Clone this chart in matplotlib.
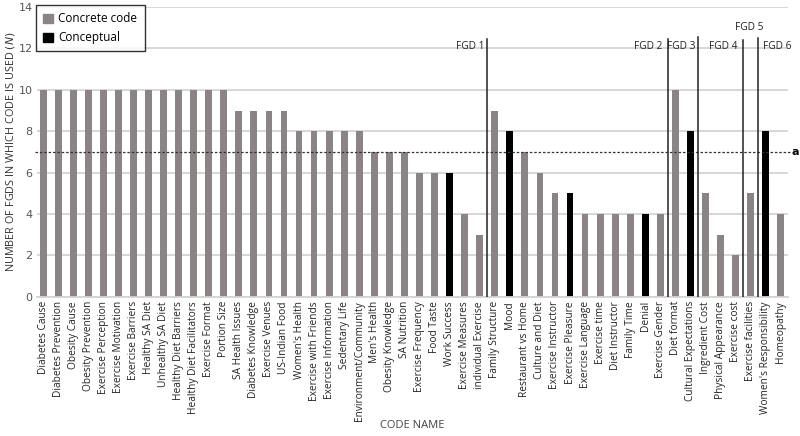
# -*- coding: utf-8 -*-
# FGD code frequency chart

import numpy as np
import matplotlib.pyplot as plt
from matplotlib.patches import Patch

# Data
codes = ['Diabetes Cause', 'Diabetes Prevention', 'Obesity Cause', 'Obesity Prevention',
         'Exercise Perception', 'Exercise Motivation', 'Exercise Barriers', 'Healthy SA Diet',
         'Unhealthy SA Diet', 'Healthy Diet Barriers', 'Healthy Diet Facilitators',
         'Exercise Format', 'Portion Size', 'SA Health Issues', 'Diabetes Knowledge',
         'Exercise Venues', 'US-Indian Food', "Women's Health", 'Exercise with Friends',
         'Exercise Information', 'Sedentary Life', 'Environment/Community', "Men's Health",
         'Obesity Knowledge', 'SA Nutrition', 'Exercise Frequency', 'Food Taste',
         'Work Success', 'Exercise Measures', 'individual Exercise', 'Family Structure',
         'Mood', 'Restaurant vs Home', 'Culture and Diet', 'Exercise Instructor',
         'Exercise Pleasure', 'Exercise Language', 'Exercise time', 'Diet Instructor',
         'Family Time', 'Denial', 'Exercise Gender', 'Diet format', 'Cultural Expectations',
         'Ingredient Cost', 'Physical Appearance', 'Exercise cost', 'Exercise facilities',
         "Women's Responsibility", 'Homeopathy']
n_fgds = [10, 10, 10, 10, 10, 10, 10, 10, 10, 10, 10, 10, 10, 9, 9, 9, 9, 8, 8, 8, 8, 8,
          7, 7, 7, 6, 6, 6, 4, 3, 9, 8, 7, 6, 5, 5, 4, 4, 4, 4, 4, 4, 10, 8, 5, 3, 2, 5, 8, 4]
conceptual = ['Work Success', 'Mood', 'Exercise Pleasure', 'Denial',
              'Cultural Expectations', "Women's Responsibility"]
# last code of each focus group discussion (FGD1..FGD5)
fgd_last = ['individual Exercise', 'Exercise Gender', 'Cultural Expectations',
            'Exercise cost', 'Exercise facilities']
fgd_names = ['FGD 1', 'FGD 2', 'FGD 3', 'FGD 4', 'FGD 5', 'FGD 6']
threshold = 7

gray = '#8a8484'
x = np.arange(len(codes))
colores = ['black' if c in conceptual else gray for c in codes]

fig = plt.figure(figsize=(8, 4.36), dpi=100)
ax = fig.add_axes([0.046, 0.319, 0.939, 0.665])
ax.set_axisbelow(True)
ax.yaxis.grid(True, color='#d4d4d4', linewidth=1.3)
ax.bar(x, n_fgds, width=0.45, color=colores, zorder=2)

ax.set_xlim(-0.42, len(codes) - 0.52)
ax.set_ylim(0, 14)
ax.set_yticks(np.arange(0, 15, 2))
ax.set_xticks(x)
ax.set_xticklabels(codes, rotation=90, fontsize=7.3, color='#222222', family='Open Sans')
ax.tick_params(axis='both', length=0, pad=3)
ax.tick_params(axis='y', labelsize=8, labelcolor='#555555')
for s in ['top', 'right', 'left']:
    ax.spines[s].set_visible(False)
ax.spines['bottom'].set_color('#d4d4d4')
ax.spines['bottom'].set_linewidth(1.3)

# Threshold line (a)
ax.plot([-0.55, len(codes) - 0.4], [threshold, threshold], ls=(0, (2, 1.5)),
        color='#333333', lw=0.9, clip_on=False, zorder=3)
ax.text(len(codes) - 0.05, threshold, 'a', fontsize=8, fontweight='bold',
        va='center', ha='center', clip_on=False)

# FGD separators
cortes = [codes.index(c) + 0.5 for c in fgd_last]
tops = [12.45, 12.45, 12.55, 12.4, 12.5]
for xc, t in zip(cortes, tops):
    ax.plot([xc, xc], [0, t], color='#222222', lw=1.1, zorder=3)
label_x = [cortes[0] - 1.15, cortes[1] - 1.3, cortes[2] - 1.1, cortes[3] - 1.35,
           cortes[4] - 0.6, cortes[4] + 1.25]
label_y = [12.1, 12.1, 12.1, 12.1, 13.0, 12.1]
for nombre, lx, ly in zip(fgd_names, label_x, label_y):
    ax.text(lx, ly, nombre, fontsize=7.3, ha='center', va='center', color='#222222',
            family='Open Sans')

ax.set_xlabel('CODE NAME', fontsize=8, color='#444444', family='Open Sans')
ax.xaxis.set_label_coords(0.5, -0.425)
ax.set_ylabel('NUMBER OF FGDS IN WHICH CODE IS USED $\\it{(N)}$', fontsize=7.8,
              color='#333333', family='Open Sans')
ax.yaxis.set_label_coords(-0.027, 0.5)

handles = [Patch(color=gray, label='Concrete code'), Patch(color='black', label='Conceptual')]
leg = ax.legend(handles=handles, loc='upper left', bbox_to_anchor=(-0.001, 1.006),
                borderaxespad=0, frameon=True, fancybox=False, edgecolor='black',
                handlelength=0.8, handleheight=0.8, handletextpad=0.5,
                borderpad=0.6, labelspacing=0.5, prop={'family': 'Open Sans', 'size': 8.5})
leg.get_frame().set_linewidth(1.0)
leg.set_zorder(5)

plt.savefig('out.png', dpi=100)
